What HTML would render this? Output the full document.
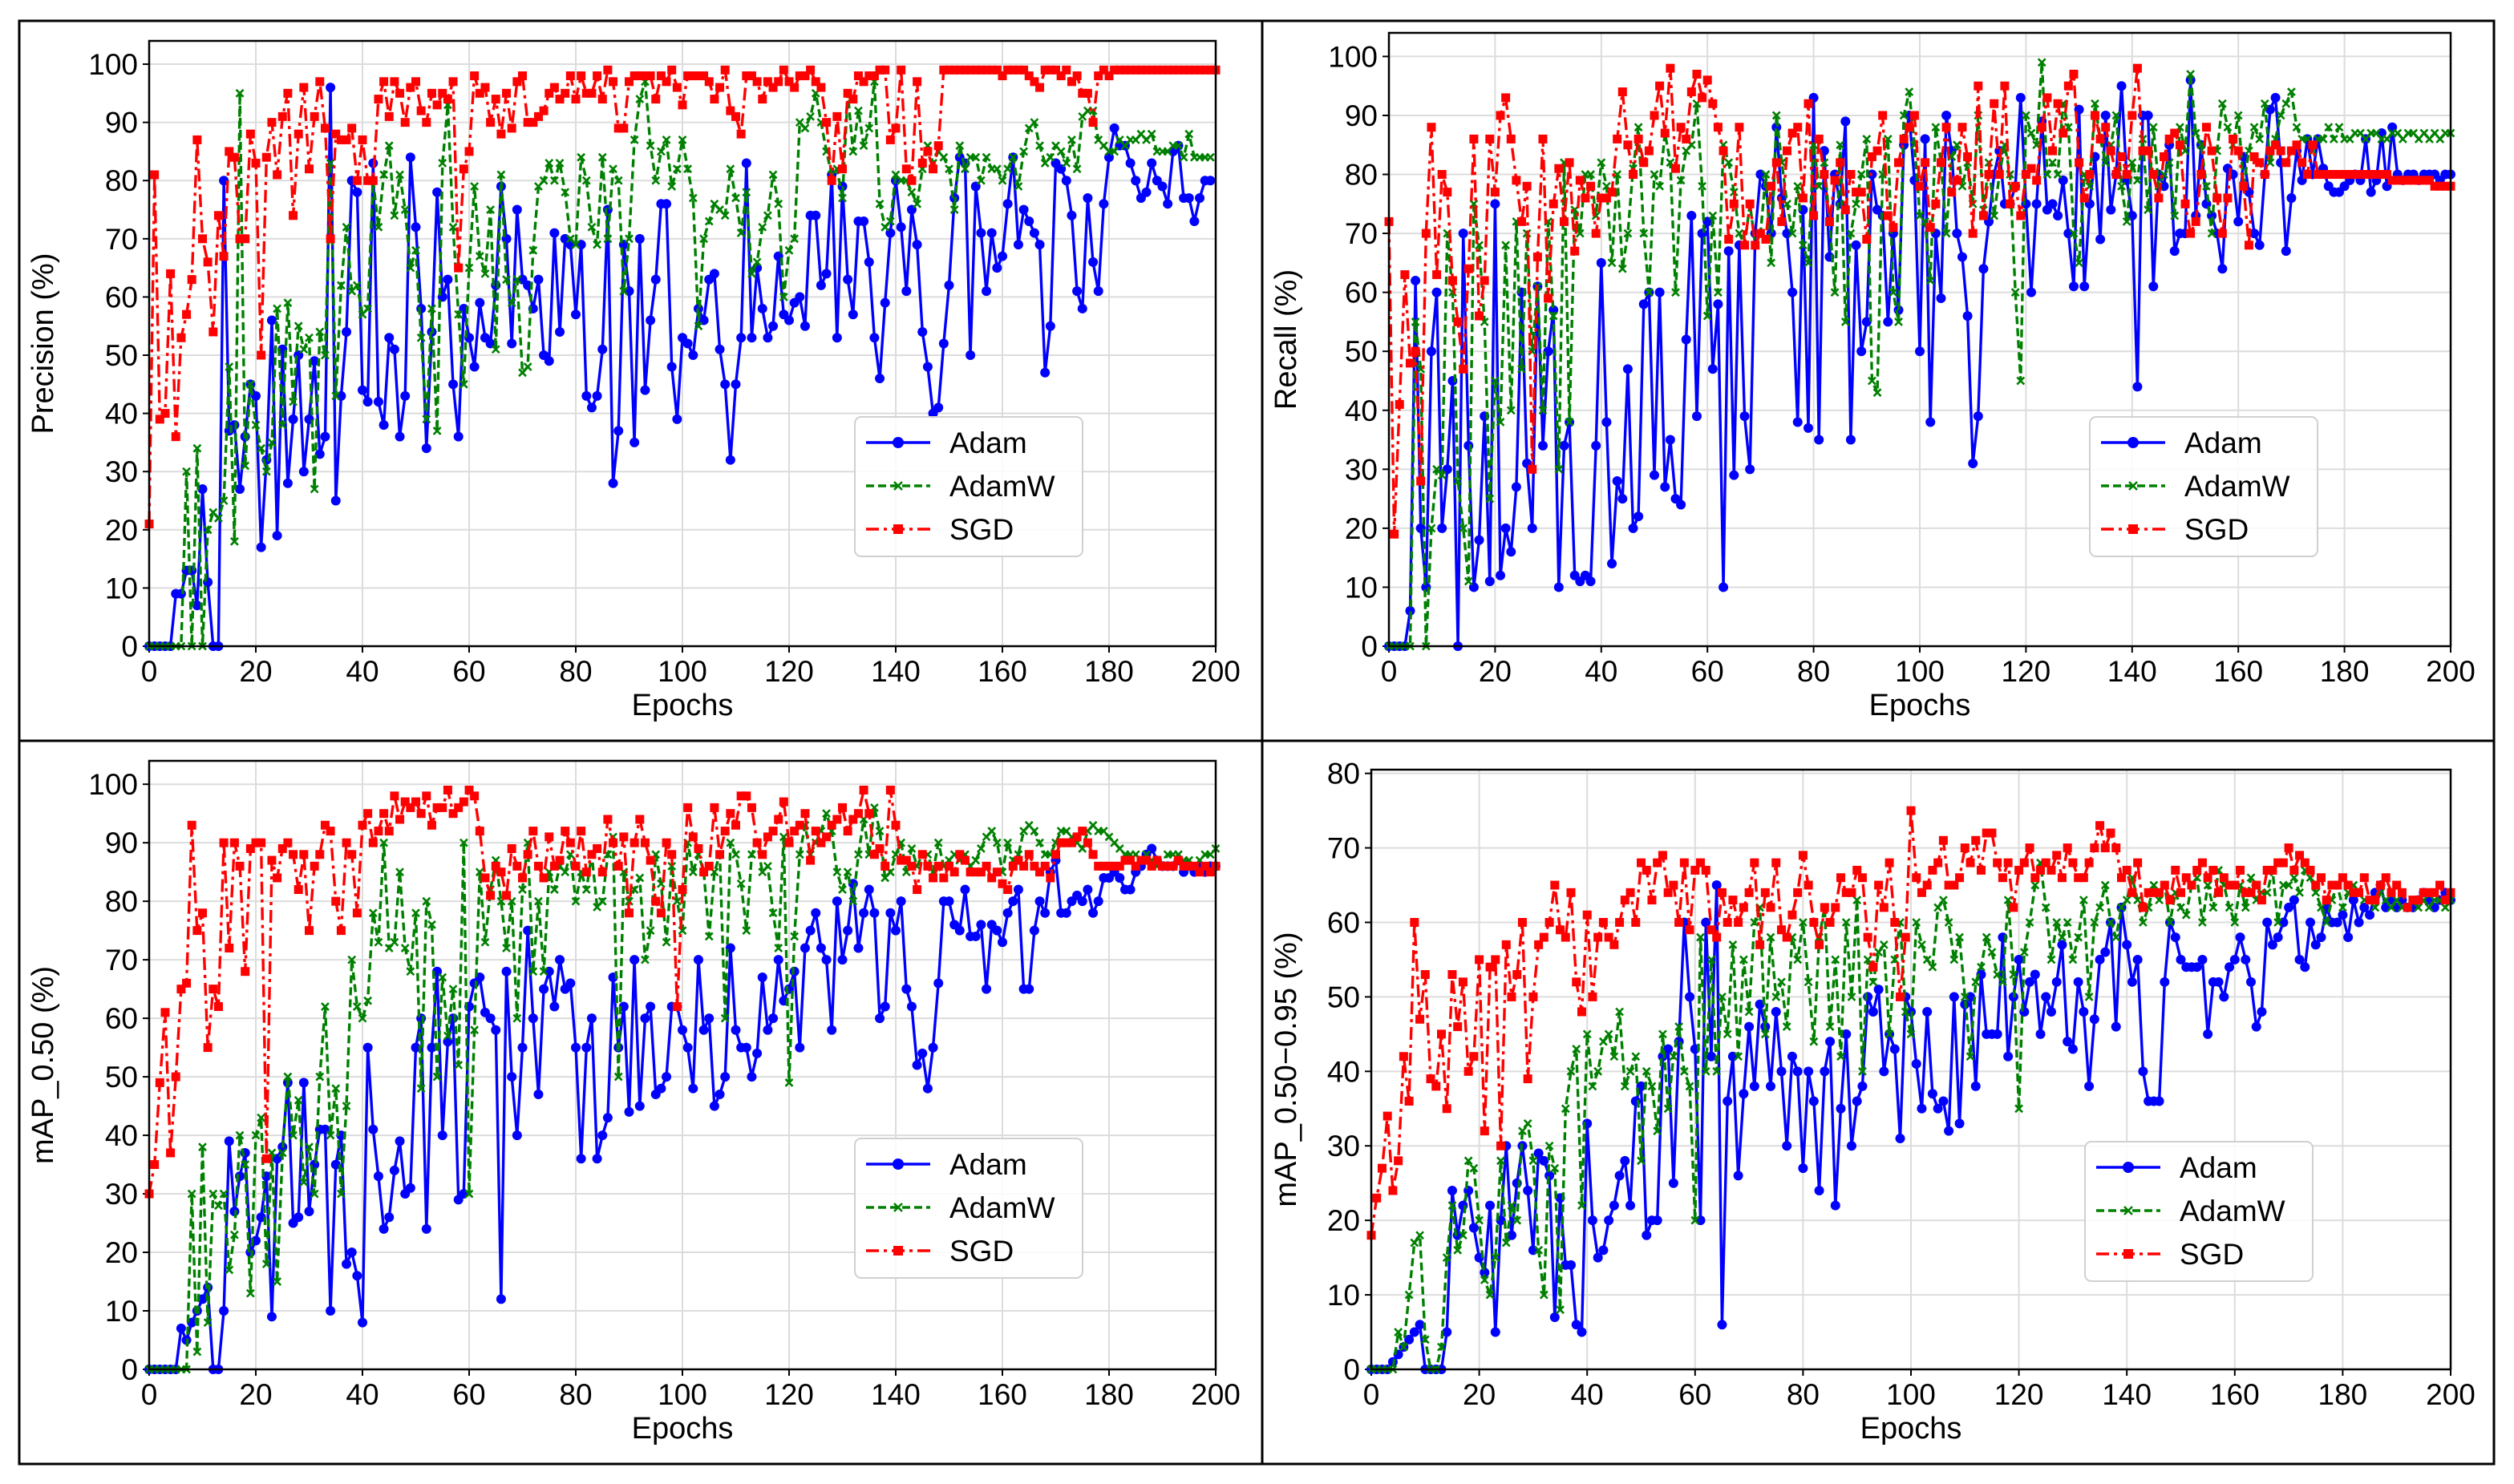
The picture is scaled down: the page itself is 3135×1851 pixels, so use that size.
<!DOCTYPE html>
<html><head><meta charset="utf-8"><style>html,body{margin:0;padding:0;background:#fff}svg{display:block}text{font-family:"Liberation Sans","DejaVu Sans",sans-serif}</style></head>
<body>
<svg id="fig" xmlns="http://www.w3.org/2000/svg" width="3135" height="1851" viewBox="0 0 3135 1851">
<rect x="0" y="0" width="3135" height="1851" fill="#fff"/>
<rect x="24" y="26" width="3086" height="1800" fill="none" stroke="#000" stroke-width="3"/>
<line x1="1574" y1="26" x2="1574" y2="1826" stroke="#000" stroke-width="3"/>
<line x1="24" y1="924" x2="3110" y2="924" stroke="#000" stroke-width="3"/>
</svg>
<script>
const xTicks=[0,20,40,60,80,100,120,140,160,180,200];
const yTicks100=[0,10,20,30,40,50,60,70,80,90,100];
const yTicks80=[0,10,20,30,40,50,60,70,80];
const seriesNames=["Adam","AdamW","SGD"];

const precAdam=[0,0,0,0,0,9,9,13,13,7,27,11,0,0,80,37,38,27,36,45,43,17,32,56,19,51,28,39,50,30,39,49,33,36,96,25,43,54,80,78,44,42,83,42,38,53,51,36,43,84,72,58,34,54,78,60,63,45,36,58,53,48,59,53,52,62,79,70,52,75,63,62,58,63,50,49,71,54,70,69,57,69,43,41,43,51,75,28,37,69,61,35,70,44,56,63,76,76,48,39,53,52,50,58,56,63,64,51,45,32,45,53,83,53,65,58,53,55,67,57,56,59,60,55,74,74,62,64,81,53,79,63,57,73,73,66,53,46,59,71,80,72,61,75,69,54,48,40,41,52,62,77,84,83,50,79,71,61,71,65,67,76,84,69,75,73,71,69,47,55,83,82,80,74,61,58,77,66,61,76,84,89,86,86,83,80,77,78,83,80,79,76,85,86,77,77,73,77,80,80];
const precAdamW=[0,0,0,0,0,0,0,30,0,34,0,20,23,22,25,48,18,95,31,45,38,34,30,35,58,38,59,42,55,51,53,27,54,50,83,43,62,72,61,62,57,58,80,72,81,86,74,81,75,65,68,53,39,58,37,83,93,72,57,45,65,79,67,64,75,51,81,63,59,63,47,48,68,79,80,83,80,83,78,70,69,84,80,72,69,84,70,82,80,61,70,87,94,97,86,80,85,87,79,82,87,82,77,55,70,73,76,75,74,82,77,71,78,64,66,72,74,81,76,60,68,70,90,89,91,95,90,85,81,82,77,95,85,92,86,89,97,76,72,73,81,80,80,78,76,82,86,83,85,84,82,75,86,82,84,84,80,84,82,82,80,82,84,79,85,89,90,86,83,84,86,85,83,87,82,91,92,92,87,86,85,85,87,86,87,87,88,87,88,85,85,85,86,86,84,88,84,84,84,84];
const precSGD=[21,81,39,40,64,36,53,57,63,87,70,66,54,74,67,85,84,70,70,88,83,50,84,90,81,91,95,74,88,96,82,91,97,89,70,88,87,87,89,80,87,80,80,94,97,91,97,95,90,96,97,92,90,95,93,95,94,97,65,82,85,98,95,96,90,94,88,95,89,97,98,90,90,91,92,95,96,94,95,98,94,98,95,95,98,94,99,97,89,89,97,98,98,98,98,94,98,97,99,96,93,98,98,98,98,97,94,96,99,92,91,88,98,98,97,94,97,96,97,99,97,96,98,98,99,97,96,90,80,91,82,95,94,98,97,98,98,99,99,87,89,99,82,80,97,83,85,82,86,99,99,99,99,99,99,99,99,99,99,99,98,99,99,99,99,98,97,96,99,99,99,98,99,97,98,95,95,90,98,99,98,99,99,99,99,99,99,99,99,99,99,99,99,99,99,99,99,99,99,99,99];

const recAdam=[0,0,0,0,6,62,20,10,50,60,20,30,45,0,70,34,10,18,39,11,75,12,20,16,27,60,31,20,61,34,50,57,10,34,38,12,11,12,11,34,65,38,14,28,25,47,20,22,58,60,29,60,27,35,25,24,52,73,39,70,72,47,58,10,67,29,68,39,30,70,80,78,70,88,76,70,60,38,74,37,93,35,84,66,80,75,89,35,68,50,55,80,74,73,55,70,57,85,90,79,50,86,38,70,59,90,84,70,66,56,31,39,64,72,80,84,75,75,78,93,75,60,75,89,74,75,73,79,70,61,91,61,75,83,69,90,74,80,95,79,73,44,90,90,61,80,78,85,67,70,70,96,73,85,75,73,70,64,81,80,72,83,77,70,68,80,91,93,82,67,76,84,79,86,80,86,81,78,77,77,78,79,80,79,86,77,79,87,78,88,80,79,80,80,79,80,80,80,79,80,80];
const recAdamW=[0,0,0,0,0,55,47,0,20,30,29,70,60,28,20,11,75,68,55,25,45,38,68,40,72,47,70,50,61,40,72,56,30,82,38,74,70,80,80,73,82,78,65,80,64,70,81,88,70,60,80,78,87,82,60,79,84,85,92,78,56,73,60,85,82,77,70,68,75,68,70,80,65,90,82,75,70,78,68,65,85,78,82,72,60,85,55,70,75,80,86,45,43,80,86,60,55,90,94,85,73,72,62,88,82,70,83,85,78,82,75,90,74,82,73,80,85,80,60,45,90,87,85,99,80,82,80,92,88,70,65,80,78,92,86,82,85,90,78,72,82,79,86,74,88,78,80,82,73,88,84,97,87,85,78,70,84,92,88,85,90,78,84,88,86,92,82,86,90,92,94,88,86,86,84,86,86,88,86,88,86,86,87,87,86,87,87,86,86,87,87,86,87,87,86,87,86,87,86,87,87];
const recSGD=[72,19,41,63,48,50,28,70,88,63,80,77,62,55,47,64,86,56,62,86,77,90,93,86,79,72,78,30,66,86,59,75,81,72,82,67,79,76,78,70,76,76,77,86,94,85,80,86,82,84,90,95,87,98,81,88,86,94,97,93,96,92,88,84,69,75,88,68,75,68,70,69,78,82,72,84,87,88,76,92,73,86,80,72,79,82,74,80,77,77,69,83,84,90,73,71,82,86,88,90,78,82,71,75,82,88,77,79,88,83,70,95,73,80,92,80,95,75,78,73,80,81,79,88,93,84,92,87,95,97,82,76,80,90,86,88,84,80,83,80,90,98,84,84,80,76,83,86,87,85,75,70,72,80,88,84,76,70,76,86,84,78,68,83,82,80,84,85,84,82,84,85,82,80,85,80,80,80,80,80,80,80,80,80,80,80,80,80,80,79,79,79,79,79,79,79,79,78,78,78,78];

const m50Adam=[0,0,0,0,0,0,7,5,8,10,12,14,0,0,10,39,27,33,37,20,22,26,33,9,36,38,49,25,26,49,27,35,41,41,10,35,40,18,20,16,8,55,41,33,24,26,34,39,30,31,55,60,24,55,68,40,56,60,29,30,62,66,67,61,60,58,12,68,50,40,55,75,60,47,65,68,62,70,65,66,55,36,55,60,36,40,43,67,55,62,44,70,45,60,62,47,48,50,62,62,58,55,48,70,58,60,45,47,50,72,58,55,55,50,54,67,58,60,70,63,65,68,55,72,75,78,72,70,58,80,70,75,83,72,78,82,78,60,62,78,75,80,65,62,52,54,48,55,66,80,80,76,75,82,74,74,76,65,76,75,73,78,80,82,65,65,75,80,78,85,87,78,78,80,81,80,82,78,80,84,84,85,84,82,82,85,86,88,89,87,86,86,86,87,85,86,85,86,85,86,86];
const m50AdamW=[0,0,0,0,0,0,0,0,30,3,38,8,30,28,30,17,23,40,35,13,40,43,18,37,15,37,50,40,46,32,38,30,50,62,40,48,30,45,70,62,60,63,78,73,90,72,73,85,72,68,78,48,80,76,50,67,57,65,52,90,30,58,85,73,82,87,80,72,80,60,82,90,68,80,68,85,82,86,85,88,80,85,82,88,79,80,88,91,50,85,80,82,84,70,75,88,83,73,86,80,75,90,85,88,85,74,85,88,60,90,88,83,75,88,90,85,86,78,72,91,49,74,88,93,88,90,92,95,92,85,82,85,80,88,94,88,96,92,84,85,88,90,85,89,86,88,88,85,90,86,87,88,87,88,86,87,89,91,92,90,85,90,87,88,92,93,92,90,88,88,90,92,92,91,90,89,92,93,92,92,91,90,89,88,88,88,87,88,87,86,86,88,88,88,87,87,86,87,88,88,89];
const m50SGD=[30,35,49,61,37,50,65,66,93,75,78,55,65,62,90,72,90,86,68,89,90,90,36,87,84,89,90,88,82,88,75,86,88,93,92,80,75,90,88,78,93,95,90,92,95,92,98,94,97,96,97,95,98,93,96,96,99,95,96,97,99,98,92,84,81,86,85,81,89,86,84,88,92,86,84,91,86,87,92,90,86,92,85,88,89,85,94,90,86,91,78,90,94,90,87,80,78,90,88,62,82,96,91,89,85,86,96,88,92,95,93,98,98,96,90,88,91,92,94,97,90,92,93,95,87,92,90,91,93,94,96,92,94,95,99,95,88,89,86,99,93,87,87,86,82,88,86,84,86,84,86,85,88,87,85,85,85,86,84,85,83,82,86,87,86,88,86,85,86,84,88,90,90,90,91,92,90,88,86,86,86,86,86,87,87,86,87,87,86,87,86,86,86,87,86,86,86,85,86,85,86];

const m95Adam=[0,0,0,0,1,2,3,4,5,6,0,0,0,0,5,24,18,22,24,19,15,13,22,5,20,30,18,25,30,24,16,29,28,26,7,23,14,14,6,5,33,20,15,16,20,22,26,28,22,36,38,18,20,20,42,43,25,44,60,50,43,20,60,42,65,6,36,42,26,37,46,38,49,46,38,48,40,30,42,40,27,40,36,24,40,44,22,35,45,30,36,38,50,48,51,40,45,43,31,50,48,41,35,48,37,35,36,32,50,33,49,50,38,53,45,45,45,58,42,50,55,48,52,53,45,50,48,52,57,44,43,52,48,38,47,55,56,60,46,62,57,52,55,40,36,36,36,52,60,58,55,54,54,54,55,45,52,52,50,54,55,58,55,52,46,48,60,57,58,60,62,63,55,54,60,57,58,62,60,60,61,58,63,60,62,61,64,65,62,63,62,63,62,62,63,64,63,62,63,64,63];
const m95AdamW=[0,0,0,0,0,5,3,10,17,18,4,0,0,3,15,22,16,18,28,27,20,12,10,15,28,17,22,20,32,33,28,16,10,30,27,8,35,40,43,22,45,38,40,44,45,42,48,38,40,42,28,40,38,32,45,35,42,46,40,38,20,58,40,55,40,50,45,57,42,55,48,60,62,45,58,50,52,46,58,55,60,52,44,58,62,46,55,42,60,50,63,40,55,52,56,57,45,55,60,48,45,60,57,55,54,62,63,60,55,58,50,42,52,54,58,56,53,52,63,53,35,56,60,65,68,62,55,60,58,60,55,58,63,50,60,62,65,60,58,62,63,66,63,60,62,65,63,65,60,64,62,61,65,66,60,65,62,67,65,62,60,65,62,66,63,64,64,67,60,65,65,66,64,67,66,64,62,60,63,65,62,64,65,64,63,63,62,64,63,62,63,62,62,63,62,63,62,63,63,62,63];
const m95SGD=[18,23,27,34,24,28,42,36,60,47,53,39,38,45,35,53,46,52,40,42,55,32,54,55,30,57,50,53,60,39,50,57,58,60,65,59,58,64,52,48,61,50,58,60,58,57,60,63,64,60,68,67,63,68,69,64,65,60,68,59,67,68,67,59,58,64,60,63,60,62,64,68,57,64,62,68,59,58,61,64,69,65,60,57,62,60,62,66,64,64,67,66,58,54,65,62,68,60,50,58,75,66,64,65,67,68,71,65,65,66,70,68,71,67,72,72,68,66,68,62,67,68,70,66,67,68,67,69,66,70,68,66,66,68,70,73,70,72,70,66,67,64,68,62,64,64,64,65,63,67,64,66,65,67,68,66,67,64,66,65,65,67,64,64,65,63,67,67,68,68,70,67,69,68,67,65,66,63,65,65,66,65,64,64,66,63,63,65,66,64,65,64,62,63,63,64,64,64,65,63,64];

const NS="http://www.w3.org/2000/svg";
const svg=document.getElementById('fig');
function mk(tag,attrs,parent){const e=document.createElementNS(NS,tag);for(const k in attrs)e.setAttribute(k,attrs[k]);(parent||svg).appendChild(e);return e;}
const colors=["#0000ff","#008000","#ff0000"];
const dashes=["none","10,5","16,6,4,6"];

const panels=[
 {key:"precision",ylabel:"Precision (%)",x0:186,x1:1516,yb:806,yt:51,ymax:104,yt2:yTicks100,data:[precAdam,precAdamW,precSGD],lx:1066,ly:520,ylx:66},
 {key:"recall",ylabel:"Recall (%)",x0:1732,x1:3056,yb:806,yt:41,ymax:104,yt2:yTicks100,data:[recAdam,recAdamW,recSGD],lx:2606,ly:520,ylx:1616},
 {key:"map50",ylabel:"mAP_0.50 (%)",x0:186,x1:1516,yb:1708,yt:949,ymax:104,yt2:yTicks100,data:[m50Adam,m50AdamW,m50SGD],lx:1066,ly:1420,ylx:66},
 {key:"map5095",ylabel:"mAP_0.50\u22120.95 (%)",x0:1710,x1:3056,yb:1708,yt:960,ymax:80.5,yt2:yTicks80,data:[m95Adam,m95AdamW,m95SGD],lx:2600,ly:1424,ylx:1616}
];

panels.forEach(p=>{
  const g=mk('g',{});
  
  
  const X=v=>p.x0+(v/200)*(p.x1-p.x0);
  const Y=v=>p.yb-(v/p.ymax)*(p.yb-p.yt);
  xTicks.forEach(t=>{
    const l=mk('line',{x1:X(t),x2:X(t),y1:p.yt,y2:p.yb,stroke:'#dcdcdc','stroke-width':2},g);
    
    
    mk('line',{x1:X(t),x2:X(t),y1:p.yb,y2:p.yb+8,stroke:'#000','stroke-width':2},g);
    const tx=mk('text',{x:X(t),y:p.yb+44,'font-size':37,'text-anchor':'middle',fill:'#000'},g);
    tx.textContent=t;
    
    
  });
  p.yt2.forEach(t=>{
    const l=mk('line',{x1:p.x0,x2:p.x1,y1:Y(t),y2:Y(t),stroke:'#dcdcdc','stroke-width':2},g);
    
    
    mk('line',{x1:p.x0-8,x2:p.x0,y1:Y(t),y2:Y(t),stroke:'#000','stroke-width':2},g);
    const tx=mk('text',{x:p.x0-14,y:Y(t)+13,'font-size':37,'text-anchor':'end',fill:'#000'},g);
    tx.textContent=t;
    
    
  });
  p.data.forEach((arr,si)=>{
    const sg=mk('g',{},g);
    
    
    const pts=arr.map((v,i)=>X(i).toFixed(1)+','+Y(v).toFixed(1)).join(' ');
    const pl=mk('polyline',{points:pts,fill:'none',stroke:colors[si],'stroke-width':3.4,'stroke-dasharray':dashes[si],'stroke-linejoin':'round'},sg);
    
    
    arr.forEach((v,i)=>{
      let m;
      if(si===0){m=mk('circle',{cx:X(i),cy:Y(v),r:6,fill:colors[0]},sg);}
      else if(si===1){const cx=X(i),cy=Y(v);m=mk('path',{d:`M${cx-4.5},${cy-4.5}L${cx+4.5},${cy+4.5}M${cx-4.5},${cy+4.5}L${cx+4.5},${cy-4.5}`,stroke:colors[1],'stroke-width':2.6},sg);}
      else {m=mk('rect',{x:X(i)-5.5,y:Y(v)-5.5,width:11,height:11,fill:colors[2]},sg);}
      
      
    });
  });
  const fr=mk('rect',{x:p.x0,y:p.yt,width:p.x1-p.x0,height:p.yb-p.yt,fill:'none',stroke:'#000','stroke-width':2.5},g);
  
  
  const xl=mk('text',{x:(p.x0+p.x1)/2,y:p.yb+86,'font-size':38,'text-anchor':'middle',fill:'#000'},g);
  xl.textContent='Epochs';
  
  
  const yc=(p.yb+p.yt)/2;
  const yl=mk('text',{x:p.ylx,y:yc,'font-size':38,'text-anchor':'middle',fill:'#000',transform:`rotate(-90 ${p.ylx} ${yc})`},g);
  yl.textContent=p.ylabel;
  
  
  const lg=mk('g',{},g);
  
  
  mk('rect',{x:p.lx,y:p.ly,width:284,height:174,rx:8,fill:'#fff','fill-opacity':0.85,stroke:'#d0d0d0','stroke-width':2},lg);
  seriesNames.forEach((n,si)=>{
    const ry=p.ly+32+si*54;
    const e=mk('g',{},lg);
    
    
    mk('line',{x1:p.lx+14,x2:p.lx+94,y1:ry,y2:ry,stroke:colors[si],'stroke-width':3.4,'stroke-dasharray':dashes[si]},e);
    const cx=p.lx+54;
    if(si===0)mk('circle',{cx:cx,cy:ry,r:7,fill:colors[0]},e);
    else if(si===1)mk('path',{d:`M${cx-5},${ry-5}L${cx+5},${ry+5}M${cx-5},${ry+5}L${cx+5},${ry-5}`,stroke:colors[1],'stroke-width':2.6},e);
    else mk('rect',{x:cx-6,y:ry-6,width:12,height:12,fill:colors[2]},e);
    const t=mk('text',{x:p.lx+118,y:ry+13,'font-size':37,fill:'#000'},e);
    t.textContent=n;
  });
});
</script>
</body></html>
